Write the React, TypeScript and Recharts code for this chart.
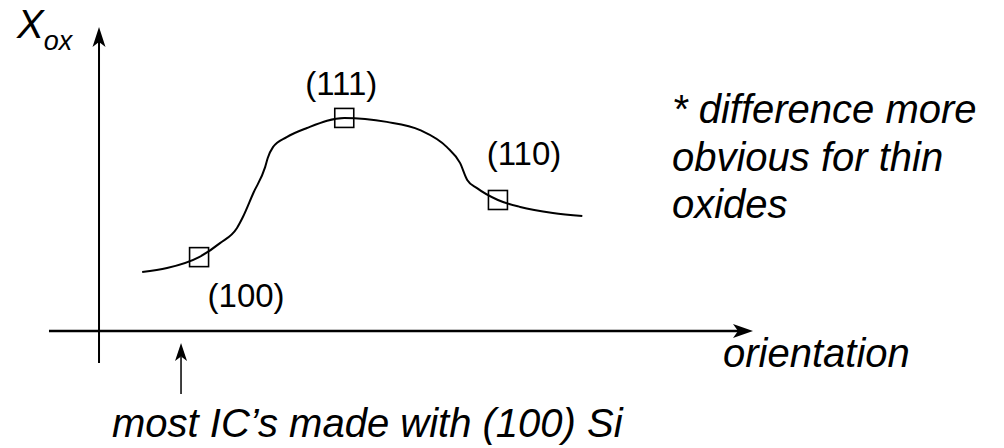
/** Thermal oxide thickness vs. silicon wafer orientation — a schematic
 *  sketch: bare arrowed axes, one smooth curve, and the three common
 *  crystal planes marked with open squares. */
import {
  ComposedChart,
  Line,
  ReferenceDot,
  ReferenceLine,
  Scatter,
  XAxis,
  YAxis,
} from "recharts";

const FONT = "'Liberation Sans', Arial, sans-serif";
const INK = "#000";

// arbitrary units: orientation 0..100 along x, Xox 0..100 up the y axis
const curveX = [6.6, 10.4, 15.3, 18.5, 21.1, 22.0, 23.6, 25.4, 25.8, 26.6, 28.7, 31.8, 37.5, 44.0, 49.1, 53.2, 55.2, 56.3, 57.8, 61.0, 64.4, 69.4, 73.9];
const curveY = [19.4, 20.7, 24.3, 28.9, 33.9, 37.5, 45.4, 53.9, 56.9, 60.5, 63.8, 66.8, 70.1, 68.8, 66.1, 60.5, 55.3, 49.7, 47.0, 43.1, 40.8, 38.8, 37.8];

const planes = ["(100)", "(111)", "(110)"];
const planeX = [15.3, 37.5, 61.0];
const planeY = [24.3, 70.1, 43.1];

const noteLines = ["* difference more", "obvious for thin", "oxides"];
const xTitle = "orientation";
const yTitle = ["X", "ox"];
const footNote = "most IC\u2019s made with (100) Si";

const curve = curveX.map((x, i) => ({ x, y: curveY[i] }));
const planePts = planes.map((label, i) => ({ label, x: planeX[i], y: planeY[i] }));

// where each plane's label sits relative to its marker (px)
const labelOffset: Record<string, [number, number]> = {
  "(100)": [47, 38],
  "(111)": [-3, -34],
  "(110)": [26, -46],
};

function arrow(width: number, head: number, half: number) {
  return (p: any) => {
    const { x1, y1, x2, y2 } = p;
    const a = Math.atan2(y2 - y1, x2 - x1);
    const ux = Math.cos(a);
    const uy = Math.sin(a);
    const bx = x2 - ux * head;
    const by = y2 - uy * head;
    const nx = x2 - ux * head * 0.75;
    const ny = y2 - uy * head * 0.75;
    const pts = [
      [x2, y2],
      [bx - uy * half, by + ux * half],
      [nx, ny],
      [bx + uy * half, by - ux * half],
    ]
      .map((q) => q.join(","))
      .join(" ");
    return (
      <g>
        <line x1={x1} y1={y1} x2={nx} y2={ny} stroke={INK} strokeWidth={width} />
        <polygon points={pts} fill={INK} />
      </g>
    );
  };
}

const PlaneMarker = (p: any) => {
  const { cx, cy, payload } = p;
  const [dx, dy] = labelOffset[payload.label] ?? [0, 0];
  return (
    <g>
      <rect x={cx - 9.5} y={cy - 9.5} width={19} height={19} fill="none" stroke={INK} strokeWidth={1.6} />
      <text
        x={cx + dx}
        y={cy + dy}
        textAnchor="middle"
        dominantBaseline="central"
        fontFamily={FONT}
        fontSize={33}
        fill={INK}
      >
        {payload.label}
      </text>
    </g>
  );
};

const italic = { fontFamily: FONT, fontStyle: "italic" as const, fill: INK };

export default function App() {
  return (
    <div style={{ position: "absolute", left: 0, top: 0, width: 1004, height: 448, background: "#fff" }}>
      <ComposedChart width={1004} height={448} margin={{ top: 0, right: 0, bottom: 0, left: 0 }}>
        <XAxis type="number" dataKey="x" domain={[-15.14, 138.38]} hide allowDataOverflow />
        <YAxis type="number" dataKey="y" domain={[-38.5, 108.9]} hide allowDataOverflow />

        <ReferenceLine
          segment={[{ x: -7.65, y: 0 }, { x: 100, y: 0 }]}
          ifOverflow="visible"
          shape={arrow(2.4, 20, 7)}
        />
        <ReferenceLine
          segment={[{ x: 0, y: -10.55 }, { x: 0, y: 100 }]}
          ifOverflow="visible"
          shape={arrow(2, 20, 6.5)}
        />
        <ReferenceLine
          segment={[{ x: 12.54, y: -20.75 }, { x: 12.54, y: -3.97 }]}
          ifOverflow="visible"
          shape={arrow(1.5, 18, 6)}
        />

        <Line
          data={curve}
          dataKey="y"
          type="monotone"
          stroke={INK}
          strokeWidth={2}
          dot={false}
          activeDot={false}
          isAnimationActive={false}
        />
        <Scatter data={planePts} dataKey="y" shape={PlaneMarker} isAnimationActive={false} />

        <ReferenceDot
          x={-12.54}
          y={96.4}
          ifOverflow="visible"
          shape={(p: any) => (
            <text x={p.cx} y={p.cy} {...italic} fontSize={40}>
              {yTitle[0]}
              <tspan fontSize={27} dy={12}>
                {yTitle[1]}
              </tspan>
            </text>
          )}
        />
        <ReferenceDot
          x={95.41}
          y={-11.86}
          ifOverflow="visible"
          shape={(p: any) => (
            <text x={p.cx} y={p.cy} {...italic} fontSize={40}>
              {xTitle}
            </text>
          )}
        />
        <ReferenceDot
          x={1.99}
          y={-34.9}
          ifOverflow="visible"
          shape={(p: any) => (
            <text x={p.cx} y={p.cy} {...italic} fontSize={40}>
              {footNote}
            </text>
          )}
        />
        <ReferenceDot
          x={87.61}
          y={68.4}
          ifOverflow="visible"
          shape={(p: any) => (
            <text x={p.cx} y={p.cy} {...italic} fontSize={40}>
              {noteLines.map((t, i) => (
                <tspan key={t} x={p.cx} dy={i === 0 ? 0 : 47.5}>
                  {t}
                </tspan>
              ))}
            </text>
          )}
        />
      </ComposedChart>
    </div>
  );
}
